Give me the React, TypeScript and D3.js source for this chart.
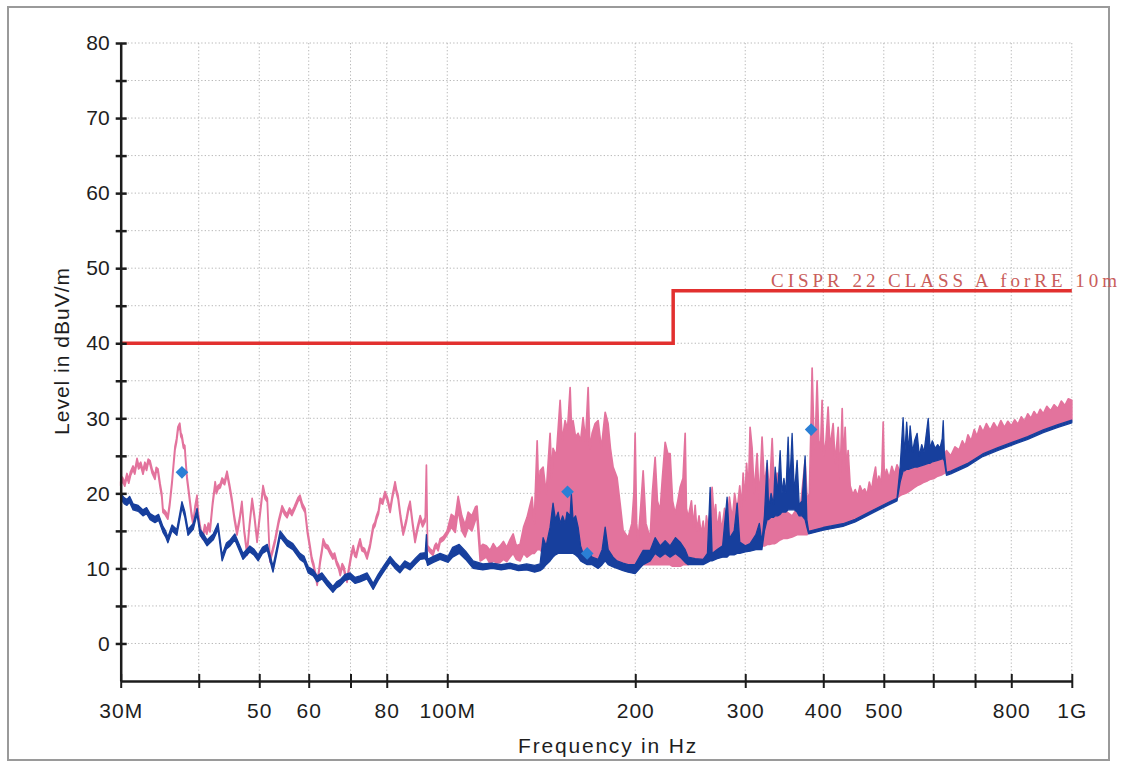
import React, { useEffect, useRef } from "react";
import * as d3 from "d3";

// frequency in MHz; each trace point is [freq, min level, max level] in dBuV/m
const pinkTrace: [number, number, number][] = [
  [30.0, 21.05, 21.55], [30.2, 21.65, 22.15], [30.45, 20.95, 21.45], [30.7, 22.15, 22.65],
  [30.9, 21.35, 21.85], [31.1, 22.35, 22.85], [31.4, 23.15, 23.65], [31.6, 22.55, 23.05],
  [31.86, 24.15, 24.65], [32.05, 23.25, 23.75], [32.3, 23.65, 24.15], [32.57, 22.55, 23.05],
  [32.8, 23.65, 24.15], [33.0, 23.05, 23.55], [33.2, 24.05, 24.55], [33.43, 23.85, 24.35],
  [33.7, 22.65, 23.15], [34.04, 21.85, 22.35], [34.2, 22.95, 23.45], [34.42, 22.75, 23.25],
  [34.7, 20.75, 21.25], [34.9, 19.55, 20.05], [35.06, 17.45, 17.95], [35.35, 17.15, 17.65],
  [35.7, 16.55, 17.05], [35.95, 18.35, 18.85], [36.25, 21.25, 21.75], [36.45, 23.55, 24.05],
  [36.65, 25.75, 26.25], [36.85, 26.75, 27.25], [37.05, 28.35, 28.85], [37.3, 28.85, 29.35],
  [37.45, 27.55, 28.05], [37.6, 27.25, 27.75], [37.8, 26.05, 26.55], [38.0, 25.85, 26.35],
  [38.15, 23.75, 24.25], [38.3, 21.85, 22.35], [38.5, 20.35, 20.85], [38.7, 18.85, 19.35],
  [38.95, 16.95, 17.45], [39.2, 15.75, 16.25], [39.45, 17.75, 18.25], [39.75, 19.25, 19.75],
  [39.95, 16.75, 17.25], [40.2, 15.25, 15.75], [40.4, 14.35, 14.85], [40.6, 13.85, 14.35],
  [40.9, 15.35, 15.85], [41.2, 14.55, 15.05], [41.45, 15.55, 16.05], [41.7, 14.85, 15.35],
  [42.1, 18.35, 18.85], [42.5, 21.05, 21.55], [42.7, 19.95, 20.45], [42.95, 20.55, 21.05],
  [43.3, 20.75, 21.25], [43.6, 21.55, 22.05], [44.0, 21.15, 21.65], [44.4, 22.45, 22.95],
  [44.8, 20.75, 21.25], [45.2, 18.85, 19.35], [45.6, 16.55, 17.05], [46.06, 14.45, 14.95],
  [46.5, 16.25, 16.75], [46.9, 18.45, 18.95], [47.3, 14.75, 15.25], [47.8, 11.75, 12.25],
  [48.2, 15.25, 15.75], [48.7, 18.85, 19.35], [49.1, 16.75, 17.25], [49.6, 13.45, 13.95],
  [50.1, 16.75, 17.25], [50.7, 20.55, 21.05], [51.1, 19.25, 19.75], [51.5, 18.85, 19.35],
  [51.75, 14.75, 15.25], [52.0, 10.85, 11.35], [52.5, 12.05, 12.55], [53.0, 13.45, 13.95],
  [53.7, 15.95, 16.45], [54.4, 17.85, 18.35], [54.9, 17.15, 17.65], [55.4, 16.75, 17.25],
  [55.9, 17.55, 18.05], [56.4, 17.05, 17.55], [56.9, 17.75, 18.25], [57.3, 18.35, 18.85],
  [57.7, 18.95, 19.45], [58.1, 19.25, 19.75], [58.6, 18.15, 18.65], [59.2, 17.45, 17.95],
  [59.7, 14.75, 15.25], [60.3, 12.55, 13.05], [60.7, 10.95, 11.45], [61.1, 10.15, 10.65],
  [61.5, 8.95, 9.45], [61.9, 7.75, 8.25], [62.3, 9.35, 9.85], [62.6, 10.75, 11.25],
  [63.0, 12.15, 12.65], [63.3, 13.45, 13.95], [63.8, 12.75, 13.25], [64.4, 12.55, 13.05],
  [65.0, 11.85, 12.35], [65.6, 11.25, 11.75], [66.0, 11.55, 12.05], [66.5, 10.55, 11.05],
  [67.0, 9.95, 10.45], [67.4, 9.05, 9.55], [67.9, 10.15, 10.65], [68.3, 9.75, 10.25],
  [68.7, 8.75, 9.25], [69.1, 8.15, 8.65], [69.6, 9.75, 10.25], [70.2, 11.55, 12.05],
  [70.7, 12.55, 13.05], [71.1, 11.65, 12.15], [71.5, 11.45, 11.95], [72.0, 12.55, 13.05],
  [72.5, 13.45, 13.95], [73.0, 12.35, 12.85], [73.7, 12.15, 12.65], [74.4, 11.25, 11.75],
  [75.2, 12.75, 13.25], [76.1, 15.25, 15.75], [76.6, 15.65, 16.15], [77.0, 16.45, 16.95],
  [77.6, 17.25, 17.75], [78.1, 18.85, 19.35], [78.8, 18.55, 19.05], [79.5, 19.75, 20.25],
  [80.2, 18.95, 19.45], [81.0, 17.45, 17.95], [81.7, 19.35, 19.85], [82.5, 21.05, 21.55],
  [82.9, 20.05, 20.55], [83.4, 19.25, 19.75], [84.2, 16.55, 17.05], [85.0, 14.45, 14.95],
  [85.5, 15.25, 15.75], [86.0, 16.15, 16.65], [86.6, 17.55, 18.05], [87.2, 18.45, 18.95],
  [88.0, 15.75, 16.25], [88.8, 13.45, 13.95], [89.6, 15.05, 15.55], [90.5, 16.55, 17.05],
  [91.3, 15.55, 16.05], [92.2, 16.25, 16.75], [92.6, 23.25, 23.75], [93.0, 12.55, 13.05],
  [93.8, 12.15, 12.65], [94.9, 11.75, 12.25], [95.5, 12.55, 13.05], [96.0, 12.85, 13.35],
  [96.7, 12.35, 12.85], [97.4, 13.45, 13.95], [98.6, 13.75, 14.25], [99.9, 14.45, 14.95],
  [101.5, 15.5, 17.2], [103.0, 14.8, 16.8], [104.1, 17.8, 19.6], [105.5, 15.0, 17.0],
  [106.8, 14.2, 15.8], [108.0, 15.5, 17.5], [109.5, 15.0, 17.0], [111.0, 16.5, 18.2],
  [111.6, 16.8, 18.3], [112.9, 11.0, 12.8], [114.0, 11.2, 13.2], [115.5, 11.5, 13.0],
  [117.1, 10.6, 12.4], [118.5, 11.0, 13.3], [120.0, 10.7, 12.6], [121.5, 10.8, 13.0],
  [123.0, 11.2, 13.6], [124.5, 10.9, 12.8], [126.0, 11.5, 13.8], [127.5, 12.0, 14.6],
  [129.0, 11.2, 13.0], [130.8, 11.0, 13.2], [132.5, 12.0, 15.5], [134.2, 11.5, 16.8],
  [136.7, 12.0, 19.5], [137.8, 12.0, 16.0], [139.3, 12.5, 27.0], [140.2, 12.5, 19.0],
  [140.8, 12.5, 23.0], [142.4, 12.0, 23.5], [144.0, 12.5, 20.0], [146.1, 12.5, 28.0],
  [147.0, 12.5, 22.0], [147.7, 12.5, 26.0], [149.5, 12.5, 25.0], [151.6, 13.0, 32.4],
  [152.8, 13.0, 27.0], [154.4, 13.0, 29.7], [155.8, 13.0, 28.5], [157.3, 13.5, 34.1],
  [158.2, 13.0, 28.0], [159.0, 13.0, 29.7], [160.5, 13.0, 27.5], [162.0, 12.5, 28.0],
  [163.5, 12.0, 27.0], [165.0, 12.0, 30.1], [166.5, 11.8, 27.0], [168.1, 11.5, 34.1],
  [169.2, 11.5, 26.0], [170.6, 11.5, 28.0], [172.5, 11.0, 29.3], [174.4, 11.0, 29.7],
  [176.5, 11.0, 26.0], [179.0, 11.0, 30.8], [180.9, 11.0, 29.3], [182.5, 11.0, 26.0],
  [184.3, 11.0, 23.5], [187.0, 10.5, 22.1], [189.1, 10.5, 18.7], [191.2, 10.5, 15.1],
  [194.8, 10.5, 14.1], [197.5, 10.5, 16.0], [199.0, 10.5, 20.0], [199.9, 10.5, 28.0],
  [201.0, 10.5, 16.0], [202.1, 10.5, 13.7], [204.0, 10.5, 18.0], [205.9, 10.5, 23.0],
  [208.0, 10.5, 16.0], [211.3, 10.5, 14.0], [213.0, 10.5, 20.0], [215.2, 10.5, 24.8],
  [217.0, 10.5, 19.0], [219.2, 10.5, 17.7], [221.0, 10.5, 22.0], [223.3, 10.5, 26.8],
  [225.5, 10.5, 25.3], [227.4, 10.5, 25.3], [229.5, 10.3, 19.0], [231.7, 10.3, 17.3],
  [234.0, 10.3, 19.0], [236.0, 10.3, 20.8], [238.5, 10.5, 22.0], [240.4, 10.5, 28.0],
  [241.5, 10.5, 18.0], [243.1, 10.5, 16.8], [246.0, 10.8, 19.0], [248.0, 10.9, 15.5],
  [249.4, 11.0, 18.4], [251.0, 11.0, 15.0], [253.0, 11.0, 17.0], [255.0, 11.1, 14.5],
  [256.9, 11.2, 16.3], [258.5, 11.3, 14.0], [260.0, 11.5, 17.0], [262.0, 11.5, 15.0],
  [263.6, 11.5, 18.0], [265.5, 11.5, 20.8], [267.5, 11.7, 16.5], [269.0, 11.8, 18.5],
  [270.5, 12.0, 15.1], [273.0, 12.0, 17.5], [275.0, 12.0, 15.0], [278.0, 12.0, 18.0],
  [280.6, 12.0, 15.6], [283.0, 12.1, 19.5], [286.0, 12.3, 16.5], [288.5, 12.4, 20.0],
  [291.2, 12.5, 17.7], [294.0, 12.5, 21.0], [296.0, 12.5, 18.0], [297.7, 12.5, 22.7],
  [299.5, 12.6, 19.0], [301.5, 12.6, 24.0], [303.5, 12.7, 20.0], [305.4, 12.8, 28.8],
  [307.7, 12.8, 26.0], [310.0, 12.8, 20.0], [313.4, 12.8, 25.3], [316.0, 13.0, 19.0],
  [319.2, 13.0, 27.5], [322.0, 13.0, 21.0], [325.2, 13.2, 24.0], [328.0, 13.2, 20.0],
  [331.3, 13.3, 27.3], [334.0, 13.3, 20.0], [337.4, 13.5, 22.7], [341.2, 13.8, 18.0],
  [345.0, 14.0, 17.7], [350.0, 14.0, 17.5], [356.6, 14.2, 17.0], [363.2, 14.5, 18.0],
  [368.0, 14.5, 18.5], [374.1, 14.5, 24.4], [377.0, 14.5, 19.0], [380.0, 15.0, 20.0],
  [382.5, 15.0, 30.0], [383.9, 15.0, 36.7], [386.0, 15.0, 29.0], [388.0, 15.2, 26.0],
  [391.0, 15.2, 35.0], [393.5, 15.2, 27.0], [396.0, 15.2, 26.0], [398.3, 15.5, 32.4],
  [401.0, 15.5, 25.0], [404.0, 15.5, 27.0], [407.2, 15.5, 31.5], [410.0, 15.8, 26.0],
  [414.8, 15.8, 29.3], [418.0, 15.8, 24.0], [422.6, 16.0, 28.8], [425.5, 16.0, 22.0],
  [428.9, 16.0, 31.3], [431.0, 16.0, 24.0], [433.6, 16.2, 28.8], [436.0, 16.2, 23.0],
  [438.4, 16.3, 25.7], [441.7, 16.3, 21.0], [446.0, 16.5, 19.8], [450.0, 16.6, 20.5],
  [454.0, 16.8, 19.6], [458.0, 17.0, 21.0], [462.0, 17.0, 20.2], [466.0, 17.2, 20.6],
  [470.0, 17.3, 19.8], [474.0, 17.5, 21.5], [478.0, 17.6, 20.4], [481.0, 17.8, 22.0],
  [485.0, 18.0, 23.5], [488.0, 18.0, 21.0], [491.0, 18.1, 22.3], [494.0, 18.3, 21.2],
  [496.5, 18.4, 23.0], [498.9, 18.5, 29.5], [501.0, 18.5, 22.0], [505.0, 18.7, 23.2],
  [510.0, 18.9, 22.0], [515.0, 19.0, 23.6], [520.0, 19.2, 22.5], [525.0, 19.4, 23.8],
  [531.0, 19.7, 22.8], [537.0, 19.9, 24.0], [545.0, 20.1, 23.0], [552.0, 20.4, 24.2],
  [558.0, 20.7, 23.4], [565.0, 21.0, 24.4], [572.0, 21.2, 23.6], [580.0, 21.5, 24.2],
  [588.0, 21.7, 23.8], [595.0, 21.9, 24.8], [602.0, 22.0, 24.0], [610.0, 22.3, 25.3],
  [620.0, 22.5, 24.6], [630.0, 22.8, 25.7], [640.0, 23.0, 25.0], [650.0, 23.2, 26.2],
  [660.0, 23.5, 25.8], [668.0, 23.6, 27.0], [675.0, 23.8, 26.3], [682.0, 24.0, 27.8],
  [690.0, 24.2, 27.0], [698.0, 24.5, 28.5], [705.0, 24.8, 27.6], [713.0, 25.0, 29.0],
  [721.0, 25.3, 28.2], [730.0, 25.5, 29.3], [740.0, 25.7, 28.4], [750.0, 25.9, 29.4],
  [760.0, 26.1, 28.6], [770.0, 26.3, 29.7], [780.0, 26.5, 28.8], [790.0, 26.6, 29.6],
  [800.0, 26.8, 29.0], [810.0, 26.9, 29.8], [820.0, 27.0, 29.2], [830.0, 27.2, 30.2],
  [840.0, 27.4, 29.6], [850.0, 27.6, 30.6], [860.0, 27.8, 30.0], [870.0, 28.0, 30.9],
  [880.0, 28.1, 30.3], [890.0, 28.3, 31.2], [900.0, 28.5, 30.6], [912.0, 28.6, 31.6],
  [925.0, 28.8, 31.0], [937.0, 29.0, 31.8], [950.0, 29.2, 31.3], [962.0, 29.3, 32.3],
  [975.0, 29.5, 31.7], [987.0, 29.6, 32.6], [1000.0, 29.8, 32.4],
];

const blueTrace: [number, number, number][] = [
  [30.0, 19.2, 20.0], [30.4, 18.6, 19.4], [30.7, 18.4, 19.2], [31.0, 18.8, 19.6],
  [31.4, 17.8, 18.6], [32.0, 17.6, 18.4], [32.57, 17.0, 17.8], [33.0, 17.3, 18.1],
  [33.43, 16.5, 17.3], [34.04, 16.1, 16.9], [34.5, 16.4, 17.2], [35.06, 14.8, 15.6],
  [35.4, 14.2, 15.0], [35.7, 13.4, 14.2], [36.25, 15.0, 15.8], [36.9, 14.4, 15.2],
  [37.3, 16.5, 17.3], [37.6, 18.1, 18.9], [38.0, 16.8, 17.6], [38.45, 14.4, 15.2],
  [39.2, 15.2, 16.0], [39.75, 17.2, 18.0], [40.2, 14.4, 15.2], [40.7, 13.8, 14.6],
  [41.25, 13.0, 13.8], [42.2, 13.8, 14.6], [42.95, 15.2, 16.0], [43.6, 11.0, 11.8],
  [44.3, 12.6, 13.4], [44.9, 13.0, 13.8], [45.7, 13.8, 14.6], [46.4, 12.5, 13.3],
  [47.1, 11.2, 12.0], [48.3, 12.2, 13.0], [49.0, 11.8, 12.6], [49.8, 11.0, 11.8],
  [50.6, 12.0, 12.8], [51.5, 12.4, 13.2], [52.6, 9.5, 10.3], [53.3, 11.8, 12.6],
  [54.0, 14.2, 15.0], [55.4, 13.0, 13.8], [56.6, 12.5, 13.3], [58.1, 11.2, 12.0],
  [59.0, 10.8, 11.6], [59.9, 9.4, 10.2], [61.0, 9.0, 9.8], [61.9, 8.2, 9.0],
  [63.0, 8.6, 9.4], [64.2, 7.7, 8.5], [65.6, 6.8, 7.6], [66.5, 7.4, 8.2],
  [67.4, 7.7, 8.5], [68.6, 8.4, 9.2], [69.9, 8.6, 9.4], [71.2, 8.0, 8.8],
  [72.5, 8.2, 9.0], [74.4, 8.6, 9.4], [76.1, 7.2, 8.0], [77.5, 8.4, 9.2],
  [78.9, 9.4, 10.2], [81.0, 10.8, 11.6], [82.5, 10.0, 10.8], [84.0, 9.4, 10.2],
  [85.5, 10.2, 11.0], [87.2, 9.8, 10.6], [89.0, 10.6, 11.4], [90.5, 11.2, 12.0],
  [92.2, 11.3, 12.1], [92.6, 11.0, 14.5], [93.0, 10.4, 11.2], [95.0, 10.8, 11.6],
  [97.4, 11.2, 12.0], [100.3, 10.8, 11.6], [102.0, 11.5, 12.8], [104.5, 12.0, 13.2],
  [107.0, 11.2, 12.3], [110.0, 10.0, 11.0], [114.0, 9.8, 10.6], [118.0, 10.0, 10.7],
  [122.0, 9.8, 10.5], [126.0, 10.0, 10.7], [130.0, 9.7, 10.4], [134.0, 9.8, 10.6],
  [138.0, 9.5, 10.4], [140.8, 9.7, 10.6], [142.4, 10.0, 14.1], [144.0, 10.5, 13.0],
  [146.1, 11.0, 15.5], [147.7, 11.5, 18.7], [149.0, 11.8, 16.5], [150.5, 12.0, 17.5],
  [151.6, 12.0, 16.0], [153.0, 12.0, 17.0], [154.5, 12.0, 16.0], [155.5, 12.0, 17.5],
  [157.3, 12.0, 17.0], [158.0, 12.0, 20.0], [159.0, 12.0, 16.5], [160.5, 11.8, 17.0],
  [162.0, 11.5, 15.5], [163.5, 11.0, 13.0], [165.0, 10.8, 12.0], [167.5, 10.5, 12.5],
  [170.6, 10.5, 11.5], [174.4, 10.0, 11.2], [177.0, 10.5, 12.5], [179.0, 11.0, 15.5],
  [181.0, 10.5, 12.5], [184.3, 10.2, 11.5], [187.0, 10.0, 11.0], [191.2, 9.7, 10.7],
  [194.8, 9.5, 10.5], [199.9, 9.3, 10.5], [205.9, 10.5, 12.4], [211.3, 11.0, 12.4],
  [215.2, 12.0, 14.1], [219.2, 11.5, 13.0], [223.3, 12.0, 13.7], [227.4, 11.5, 13.0],
  [232.0, 12.0, 14.1], [236.0, 11.5, 13.5], [240.4, 10.8, 12.5], [243.1, 10.5, 11.5],
  [249.4, 10.5, 11.3], [256.9, 10.5, 11.2], [261.0, 10.8, 12.0], [263.6, 11.0, 20.8],
  [265.5, 11.0, 12.0], [270.5, 11.3, 12.5], [276.0, 11.5, 13.0], [280.6, 11.5, 19.5],
  [283.0, 11.8, 14.0], [288.0, 11.8, 15.0], [291.2, 12.0, 18.7], [294.0, 12.0, 13.5],
  [300.0, 12.2, 13.0], [305.4, 12.3, 13.3], [312.0, 12.5, 14.5], [316.0, 12.5, 16.0],
  [319.0, 12.5, 13.5], [322.0, 15.0, 17.0], [325.2, 16.5, 24.4], [327.0, 16.5, 18.0],
  [330.0, 16.8, 20.0], [333.0, 16.8, 18.5], [335.0, 17.0, 23.5], [338.0, 17.0, 20.0],
  [341.2, 17.2, 25.7], [343.5, 17.5, 20.0], [346.0, 17.5, 22.0], [348.5, 17.5, 20.0],
  [351.4, 17.8, 27.5], [353.5, 17.8, 21.0], [356.6, 17.8, 28.0], [359.5, 17.8, 20.0],
  [363.2, 17.5, 24.4], [366.0, 17.0, 18.5], [370.0, 17.0, 19.0], [374.1, 16.5, 25.0],
  [376.5, 15.5, 16.5], [379.0, 14.6, 14.95], [400.0, 15.1, 15.45], [430.0, 15.6, 15.95],
  [450.0, 16.2, 16.55], [480.0, 17.4, 17.75], [510.0, 18.5, 18.85], [525.0, 19.0, 19.35],
  [531.1, 21.5, 23.5], [536.9, 23.0, 30.1], [540.0, 23.0, 25.0], [544.0, 23.2, 29.5],
  [548.0, 23.2, 25.5], [551.0, 23.3, 29.0], [556.0, 23.4, 25.5], [560.0, 23.5, 27.0],
  [565.4, 23.5, 28.0], [570.0, 23.6, 25.0], [575.0, 23.7, 26.5], [580.0, 23.8, 25.5],
  [589.0, 24.0, 30.0], [593.0, 24.0, 26.0], [598.0, 24.2, 27.0], [604.0, 24.3, 26.0],
  [610.0, 24.4, 26.5], [615.0, 24.5, 26.0], [620.2, 24.6, 27.3], [622.5, 24.6, 29.7],
  [625.0, 24.3, 25.5], [630.0, 22.4, 22.8], [640.0, 22.6, 22.95], [680.0, 23.6, 23.95],
  [720.0, 24.9, 25.25], [760.0, 25.7, 26.05], [800.0, 26.4, 26.75], [850.0, 27.2, 27.55],
  [900.0, 28.1, 28.45], [950.0, 28.8, 29.15], [1000.0, 29.4, 29.75],
];

const limitFreq = [30, 230, 230, 1000];
const limitLevel = [40, 40, 47, 47];
const limitLabel = "CISPR 22 CLASS A forRE 10m";

const markerFreq = [37.6, 155.8, 167.5, 382.5];
const markerLevel = [22.8, 20.2, 12.0, 28.5];

const xTicks = [30, 40, 50, 60, 70, 80, 100, 200, 300, 400, 500, 600, 700, 800, 1000];
const xTickLabels = ["30M", "", "50", "60", "", "80", "100M", "200", "300", "400", "500", "", "", "800", "1G"];
const yMajor = [0, 10, 20, 30, 40, 50, 60, 70, 80];
const yMinor = [5, 15, 25, 35, 45, 55, 65, 75];
const yGrid = [0, 5, 10, 15, 20, 25, 30, 35, 40, 45, 50, 55, 60, 65, 70, 75, 80];

const font = "'Liberation Sans', Arial, sans-serif";
const axisColor = "#1c1c1c";

export default function App() {
  const ref = useRef<SVGSVGElement>(null);

  useEffect(() => {
    const svg = d3.select(ref.current);
    svg.selectAll("*").remove();

    const x = d3.scaleLog().domain([30, 1000]).range([120.7, 1071.8]);
    const y = d3.scaleLinear().domain([-5, 80]).range([681, 43]);

    // outer frame
    svg.append("rect")
      .attr("x", 8).attr("y", 7).attr("width", 1101).attr("height", 753)
      .attr("fill", "none").attr("stroke", "#9a9a9a").attr("stroke-width", 2);

    // dotted grid
    const grid = svg.append("g").attr("stroke", "#b8b8b8").attr("stroke-width", 1)
      .attr("stroke-dasharray", "1.3,2.2");
    grid.selectAll("line.h").data(yGrid).enter().append("line")
      .attr("x1", x(30)).attr("x2", x(1000))
      .attr("y1", d => y(d)).attr("y2", d => y(d));
    grid.selectAll("line.v").data(xTicks.slice(1)).enter().append("line")
      .attr("x1", d => x(d)).attr("x2", d => x(d))
      .attr("y1", y(80)).attr("y2", y(-5));

    // traces: min/max per frequency bin
    const band = d3.area<[number, number, number]>()
      .x(d => x(d[0]))
      .y0(d => y(d[1]))
      .y1(d => y(d[2]));

    svg.append("path").datum(pinkTrace).attr("d", band)
      .attr("fill", "#e3739d").attr("stroke", "#e3739d").attr("stroke-width", 1.7)
      .attr("stroke-linejoin", "round");
    svg.append("path").datum(blueTrace).attr("d", band)
      .attr("fill", "#173f9d").attr("stroke", "#173f9d").attr("stroke-width", 1.3)
      .attr("stroke-linejoin", "round");

    // limit line
    const limit = limitFreq.map((f, i) => [f, limitLevel[i]] as [number, number]);
    svg.append("path").datum(limit)
      .attr("d", d3.line<[number, number]>().x(d => x(d[0])).y(d => y(d[1])))
      .attr("fill", "none").attr("stroke", "#e2302f").attr("stroke-width", 3.5);

    svg.append("text")
      .attr("x", 771).attr("y", 287)
      .attr("font-family", "'Liberation Serif', 'DejaVu Serif', serif")
      .attr("font-size", 19).attr("fill", "#c95d5b")
      .attr("textLength", 346).attr("lengthAdjust", "spacing")
      .text(limitLabel);

    // markers
    svg.selectAll("path.marker").data(markerFreq).enter().append("path")
      .attr("d", d3.symbol().type(d3.symbolSquare).size(80)())
      .attr("transform", (d, i) => `translate(${x(d)},${y(markerLevel[i])}) rotate(45)`)
      .attr("fill", "#2b7fd5");

    // y axis
    const yAxis = svg.append("g").attr("transform", `translate(${x(30)},0)`)
      .call(d3.axisLeft(y).tickValues(yMajor).tickFormat(d => String(d)).tickSizeOuter(0).tickSizeInner(5));
    yAxis.attr("font-family", font).attr("font-size", 21);
    yAxis.select(".domain").attr("stroke", axisColor).attr("stroke-width", 2.5);
    yAxis.selectAll(".tick line").attr("x1", 6).attr("x2", -5)
      .attr("stroke", axisColor).attr("stroke-width", 2.5);
    yAxis.selectAll(".tick text").attr("x", -11).attr("fill", "#1e1e1e");

    const yMinorAxis = svg.append("g").attr("transform", `translate(${x(30)},0)`)
      .call(d3.axisLeft(y).tickValues(yMinor).tickFormat(() => "").tickSizeOuter(0).tickSizeInner(5));
    yMinorAxis.select(".domain").remove();
    yMinorAxis.selectAll(".tick line").attr("x1", 6).attr("x2", -5)
      .attr("stroke", axisColor).attr("stroke-width", 2.5);

    // x axis
    const xAxis = svg.append("g").attr("transform", `translate(0,${y(-5)})`)
      .call(d3.axisBottom(x).tickValues(xTicks).tickFormat((d, i) => xTickLabels[i]).tickSizeOuter(0).tickSizeInner(7));
    xAxis.attr("font-family", font).attr("font-size", 21);
    xAxis.select(".domain").attr("stroke", axisColor).attr("stroke-width", 2.5);
    xAxis.selectAll(".tick line").attr("y1", -7).attr("y2", 7)
      .attr("stroke", axisColor).attr("stroke-width", 2);
    xAxis.selectAll(".tick text").attr("y", 22).attr("fill", "#1e1e1e")
      .attr("letter-spacing", 1);

    // axis titles
    svg.append("text")
      .attr("x", 608).attr("y", 753)
      .attr("text-anchor", "middle")
      .attr("font-family", font).attr("font-size", 21).attr("letter-spacing", 1.8)
      .attr("fill", "#1e1e1e")
      .text("Frequency in Hz");

    svg.append("text")
      .attr("transform", "translate(69,351) rotate(-90)")
      .attr("text-anchor", "middle")
      .attr("font-family", font).attr("font-size", 21).attr("letter-spacing", 1)
      .attr("fill", "#1e1e1e")
      .text("Level in dBuV/m");
  }, []);

  return (
    <svg
      ref={ref}
      width={1122}
      height={761}
      style={{ position: "absolute", left: 0, top: 0, background: "#fff" }}
    />
  );
}
